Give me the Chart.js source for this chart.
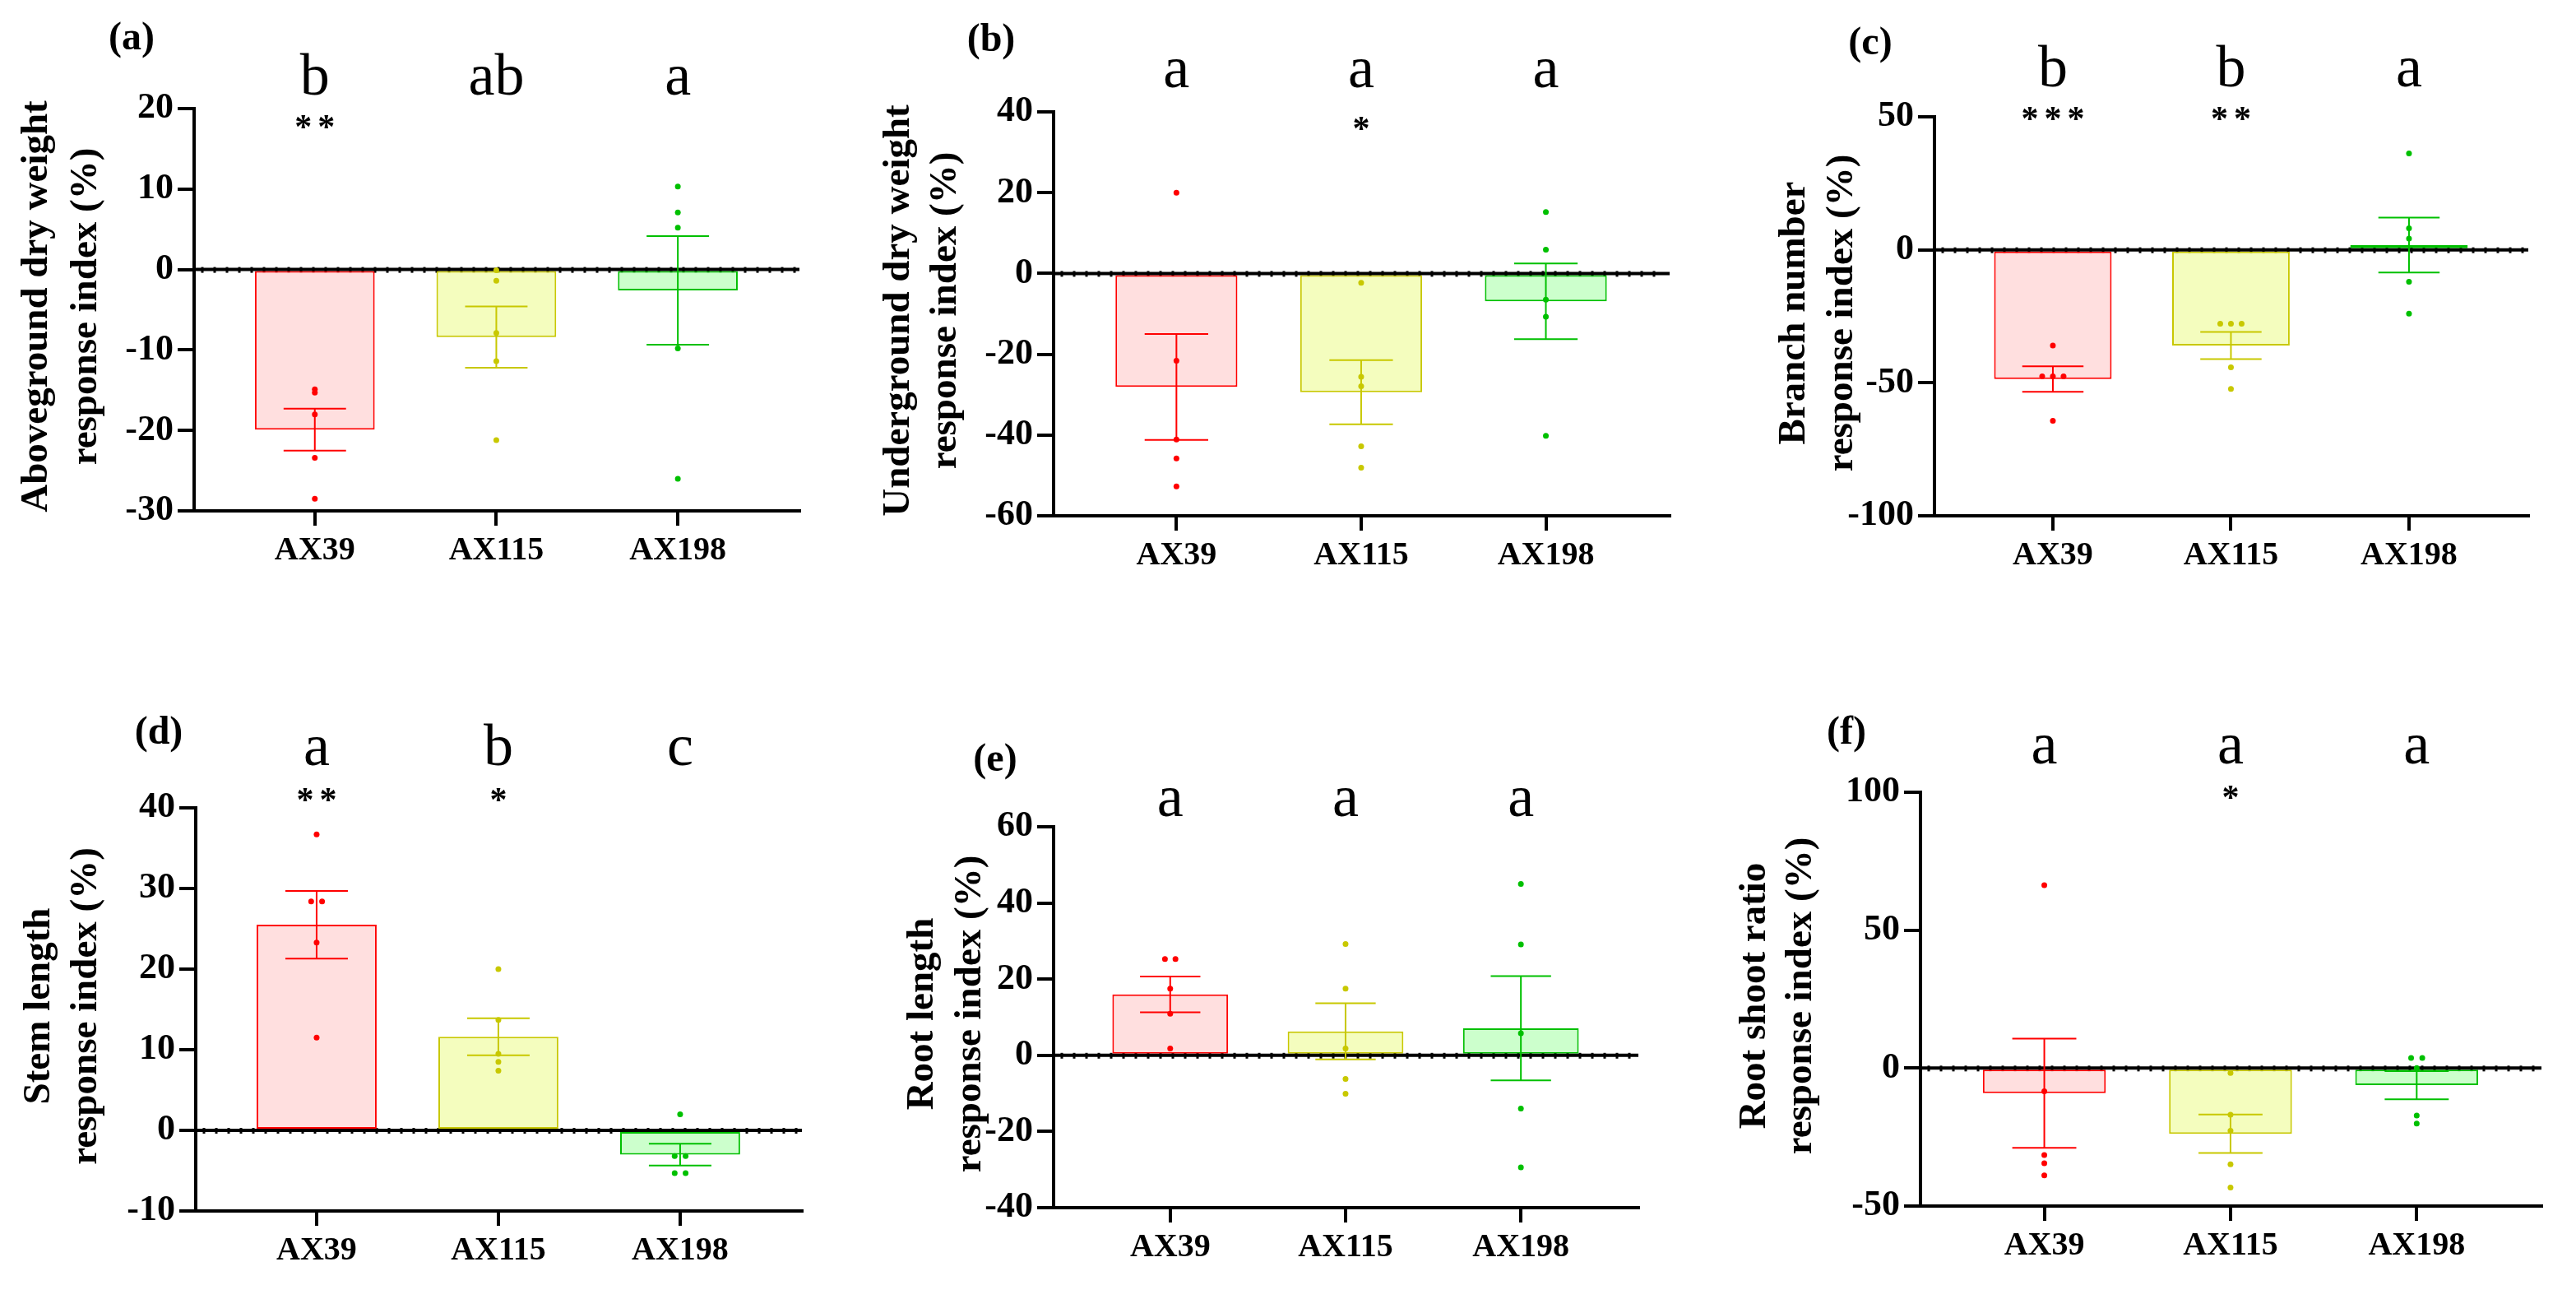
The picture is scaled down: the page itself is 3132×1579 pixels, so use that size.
<!DOCTYPE html>
<html>
<head>
<meta charset="utf-8">
<script src="https://cdn.jsdelivr.net/npm/chart.js@4.4.1/dist/chart.umd.min.js"></script>
<style>
html,body{margin:0;padding:0;background:#fff;width:3132px;height:1579px;overflow:hidden;}
canvas{position:absolute;}
</style>
</head>
<body>
<script>
// ---------- shared ----------
const categories = ['AX39', 'AX115', 'AX198'];
const borderColors = ['#FF0000', '#C8C800', '#00C000'];
const fillColors = ['#FFDFDF', '#F4FDBE', '#CCFFCC'];

// ---------- (a) Aboveground dry weight ----------
const aboveMean = [-19.9, -8.4, -2.6];
const aboveSem = [2.6, 3.8, 6.75];
const aboveAX39 = [-14.9, -15.3, -18.0, -23.4, -28.5];
const aboveAX115 = [-0.1, -1.4, -7.9, -11.4, -21.2];
const aboveAX198 = [10.3, 7.1, 5.2, -9.8, -26.0];
const aboveTicks = [-30, -20, -10, 0, 10, 20];
const aboveLetters = ['b', 'ab', 'a'];
const aboveStars = ['**', '', ''];

// ---------- (b) Underground dry weight ----------
const underMean = [-28.1, -29.4, -6.9];
const underSem = [13.1, 7.95, 9.35];
const underAX39 = [20.0, -21.6, -41.1, -45.8, -52.7];
const underAX115 = [-2.3, -25.6, -27.9, -42.8, -48.1];
const underAX198 = [15.2, 5.9, -6.5, -10.7, -40.2];
const underTicks = [-60, -40, -20, 0, 20, 40];
const underLetters = ['a', 'a', 'a'];
const underStars = ['', '*', ''];

// ---------- (c) Branch number ----------
const branchMean = [-48.6, -36.0, 1.8];
const branchSem = [4.8, 5.1, 10.35];
const branchAX39 = [-36.0, -47.6, -47.6, -47.6, -64.3];
const branchAX115 = [-27.8, -27.8, -27.8, -44.2, -52.3];
const branchAX198 = [36.2, 8.1, 4.2, -12.0, -24.0];
const branchTicks = [-100, -50, 0, 50];
const branchLetters = ['b', 'b', 'a'];
const branchStars = ['***', '**', ''];

// ---------- (d) Stem length ----------
const stemMean = [25.5, 11.6, -3.0];
const stemSem = [4.2, 2.3, 1.35];
const stemAX39 = [36.7, 28.4, 28.4, 23.3, 11.5];
const stemAX115 = [20.0, 13.7, 9.5, 8.5, 7.4];
const stemAX198 = [2.0, -3.2, -3.2, -5.3, -5.3];
const stemTicks = [-10, 0, 10, 20, 30, 40];
const stemLetters = ['a', 'b', 'c'];
const stemStars = ['**', '*', ''];

// ---------- (e) Root length ----------
const rootMean = [16.0, 6.3, 7.1];
const rootSem = [4.7, 7.35, 13.7];
const rootAX39 = [25.3, 25.3, 17.5, 10.9, 1.8];
const rootAX115 = [29.2, 17.5, 1.8, -6.2, -10.1];
const rootAX198 = [45.0, 29.1, 5.8, -14.0, -29.4];
const rootTicks = [-40, -20, 0, 20, 40, 60];
const rootLetters = ['a', 'a', 'a'];
const rootStars = ['', '', ''];

// ---------- (f) Root shoot ratio ----------
const ratioMean = [-9.1, -23.8, -6.2];
const ratioSem = [19.8, 7.0, 5.1];
const ratioAX39 = [66.3, -8.4, -31.5, -34.5, -38.9];
const ratioAX115 = [-1.8, -16.9, -22.7, -34.9, -43.3];
const ratioAX198 = [3.7, 3.7, 0.0, -17.2, -20.1];
const ratioTicks = [-50, 0, 50, 100];
const ratioLetters = ['a', 'a', 'a'];
const ratioStars = ['', '*', ''];

// ---------- layout (positions only) ----------
const panels = [
  {tag:'(a)', title:['Aboveground dry weight','response index (%)'], mean:aboveMean, sem:aboveSem,
   points:[aboveAX39, aboveAX115, aboveAX198], ticks:aboveTicks, letters:aboveLetters, stars:aboveStars,
   box:{x:0,y:0,w:1040,h:790}, axisX:236, xEnd:972, yTop:132, yBot:621,
   tagPos:[160,60], letterBase:115, starY:150, titleX:[45,105]},
  {tag:'(b)', title:['Underground dry weight','response index (%)'], mean:underMean, sem:underSem,
   points:[underAX39, underAX115, underAX198], ticks:underTicks, letters:underLetters, stars:underStars,
   box:{x:1040,y:0,w:1050,h:790}, axisX:1281, xEnd:2030, yTop:136, yBot:627,
   tagPos:[1205,62], letterBase:106, starY:152, titleX:[1093,1150]},
  {tag:'(c)', title:['Branch number','response index (%)'], mean:branchMean, sem:branchSem,
   points:[branchAX39, branchAX115, branchAX198], ticks:branchTicks, letters:branchLetters, stars:branchStars,
   box:{x:2090,y:0,w:1042,h:790}, axisX:2352, xEnd:3074, yTop:142, yBot:627,
   tagPos:[2274,66], letterBase:105, starY:140, titleX:[2182,2240]},
  {tag:'(d)', title:['Stem length','response index (%)'], mean:stemMean, sem:stemSem,
   points:[stemAX39, stemAX115, stemAX198], ticks:stemTicks, letters:stemLetters, stars:stemStars,
   box:{x:0,y:790,w:1040,h:789}, axisX:238, xEnd:975, yTop:982, yBot:1472,
   tagPos:[193,904], letterBase:930, starY:968, titleX:[48,105]},
  {tag:'(e)', title:['Root length','response index (%)'], mean:rootMean, sem:rootSem,
   points:[rootAX39, rootAX115, rootAX198], ticks:rootTicks, letters:rootLetters, stars:rootStars,
   box:{x:1040,y:790,w:1050,h:789}, axisX:1281, xEnd:1992, yTop:1005, yBot:1468,
   tagPos:[1210,937], letterBase:992, starY:1030, titleX:[1122,1180]},
  {tag:'(f)', title:['Root shoot ratio','response index (%)'], mean:ratioMean, sem:ratioSem,
   points:[ratioAX39, ratioAX115, ratioAX198], ticks:ratioTicks, letters:ratioLetters, stars:ratioStars,
   box:{x:2090,y:790,w:1042,h:789}, axisX:2335, xEnd:3090, yTop:963, yBot:1466,
   tagPos:[2245,904], letterBase:928, starY:965, titleX:[2134,2190]}
];

const SERIF = "'Liberation Serif', 'Times New Roman', serif";

// spread identical values horizontally (like a scatter dot plot)
function spread(values) {
  return values.map((v, k) => {
    const same = [];
    values.forEach((w, j) => { if (Math.abs(w - v) < 0.05) same.push(j); });
    const pos = same.indexOf(k);
    return (pos - (same.length - 1) / 2) * 0.06;
  });
}

function buildPanel(p) {
  const box = p.box;
  const cv = document.createElement('canvas');
  cv.width = box.w; cv.height = box.h;
  cv.style.left = box.x + 'px'; cv.style.top = box.y + 'px';
  cv.style.width = box.w + 'px'; cv.style.height = box.h + 'px';
  document.body.appendChild(cv);

  const datasets = [{
    type: 'bar',
    data: p.mean.map((m, i) => ({x: i, y: m})),
    backgroundColor: fillColors, borderColor: borderColors,
    borderWidth: 2, borderSkipped: false,
    barPercentage: 0.66, categoryPercentage: 1, order: 2
  }];
  p.points.forEach((vals, i) => {
    const off = spread(vals);
    datasets.push({
      type: 'scatter',
      data: vals.map((v, k) => ({x: i + off[k], y: v})),
      pointRadius: 3.5, pointHoverRadius: 3.5,
      pointBackgroundColor: borderColors[i], pointBorderColor: borderColors[i],
      pointBorderWidth: 0, order: 0
    });
  });

  const decor = {
    id: 'decor',
    beforeDatasetsDraw(chart) {
      const {ctx, chartArea} = chart;
      const y0 = chart.scales.y.getPixelForValue(0);
      ctx.save();
      ctx.fillStyle = '#000';
      for (let x = chartArea.left + 10; x < chartArea.right - 4; x += 15) {
        ctx.fillRect(x - 1.5, y0 - 3, 3, 7);
      }
      ctx.restore();
    },
    afterDatasetDraw(chart, args) {
      if (args.index !== 0) return;
      const {ctx, chartArea} = chart;
      const xs = chart.scales.x, ys = chart.scales.y;
      const y0 = ys.getPixelForValue(0);
      ctx.save();
      ctx.strokeStyle = '#000';
      ctx.lineWidth = 4;
      ctx.beginPath();
      ctx.moveTo(chartArea.left, y0);
      ctx.lineTo(chartArea.right, y0);
      ctx.stroke();
      const step = xs.getPixelForValue(1) - xs.getPixelForValue(0);
      const half = step * 0.172;
      ctx.lineWidth = 2;
      p.mean.forEach((m, i) => {
        const x = xs.getPixelForValue(i);
        const yu = ys.getPixelForValue(m + p.sem[i]);
        const yl = ys.getPixelForValue(m - p.sem[i]);
        ctx.strokeStyle = borderColors[i];
        ctx.beginPath();
        ctx.moveTo(x, yu); ctx.lineTo(x, yl);
        ctx.moveTo(x - half, yu); ctx.lineTo(x + half, yu);
        ctx.moveTo(x - half, yl); ctx.lineTo(x + half, yl);
        ctx.stroke();
      });
      ctx.restore();
    },
    afterDraw(chart) {
      const {ctx, chartArea} = chart;
      const xs = chart.scales.x;
      ctx.save();
      ctx.fillStyle = '#000';
      // panel tag
      ctx.font = 'bold 48px ' + SERIF;
      ctx.textAlign = 'center';
      ctx.textBaseline = 'alphabetic';
      ctx.fillText(p.tag, p.tagPos[0] - box.x, p.tagPos[1] - box.y);
      // significance letters
      ctx.font = '72px ' + SERIF;
      p.letters.forEach((t, i) => {
        ctx.fillText(t, xs.getPixelForValue(i), p.letterBase - box.y);
      });
      // stars
      ctx.font = 'bold 42px ' + SERIF;
      p.stars.forEach((s, i) => {
        const n = s.length;
        const cx = xs.getPixelForValue(i);
        for (let k = 0; k < n; k++) {
          ctx.fillText(s[k], cx + (k - (n - 1) / 2) * 28, p.starY - box.y + 18);
        }
      });
      // y title (two lines, rotated)
      ctx.font = 'bold 47px ' + SERIF;
      ctx.textBaseline = 'middle';
      const cy = (chartArea.top + chartArea.bottom) / 2 - 4;
      p.title.forEach((line, k) => {
        ctx.save();
        ctx.translate(p.titleX[k] - box.x, cy);
        ctx.rotate(-Math.PI / 2);
        ctx.fillText(line, 0, 0);
        ctx.restore();
      });
      ctx.restore();
    }
  };

  const yWidth = p.axisX - box.x;
  const xHeight = box.y + box.h - p.yBot;

  new Chart(cv, {
    data: {datasets},
    options: {
      responsive: false, animation: false, devicePixelRatio: 1,
      events: [],
      layout: {padding: {
        left: 0, top: p.yTop - box.y,
        right: box.x + box.w - p.xEnd, bottom: 0
      }},
      plugins: {legend: {display: false}, tooltip: {enabled: false}},
      scales: {
        x: {
          type: 'linear', min: -0.665, max: 2.67, offset: false,
          afterBuildTicks: s => { s.ticks = categories.map((c, i) => ({value: i})); },
          afterFit: s => { s.height = xHeight; },
          ticks: {callback: v => categories[Math.round(v)], color: '#000', autoSkip: false, maxRotation: 0,
                  font: {family: SERIF, size: 40, weight: 'bold'}, padding: 7},
          grid: {offset: false, drawOnChartArea: false, drawTicks: true, tickLength: 18, lineWidth: 4, color: '#000'},
          border: {display: true, width: 4, color: '#000'}
        },
        y: {
          type: 'linear', min: p.ticks[0], max: p.ticks[p.ticks.length - 1],
          afterBuildTicks: s => { s.ticks = p.ticks.map(v => ({value: v})); },
          afterFit: s => { s.width = yWidth; },
          ticks: {callback: v => String(v), color: '#000',
                  font: {family: SERIF, size: 44, weight: 'bold'}, padding: 5},
          grid: {drawOnChartArea: false, drawTicks: true, tickLength: 20, lineWidth: 4, color: '#000'},
          border: {display: true, width: 4, color: '#000'}
        }
      }
    },
    plugins: [decor]
  });
}

panels.forEach(buildPanel);
</script>
</body>
</html>
